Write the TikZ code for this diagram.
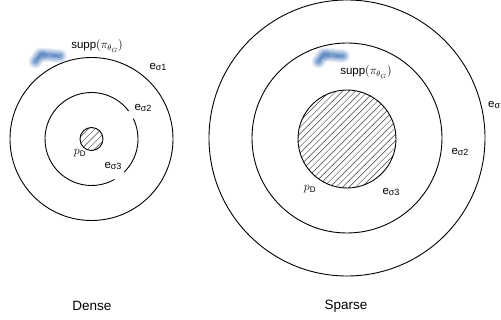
\documentclass[tikz,border=0pt]{standalone}
\usepackage{amsmath}
\usepackage{fontspec}
\setmainfont{Liberation Sans}
\usetikzlibrary{calc}
\definecolor{blobblue}{RGB}{30,90,175}
\newcommand{\esub}[2]{#1\raisebox{-0.25ex}{\fontsize{9}{9}\selectfont #2}}
\tikzset{
  ring/.style={line width=0.9pt, black},
  lbl/.style={inner sep=0pt, font=\fontsize{11.5}{12}\selectfont},
  caption/.style={inner sep=0pt, font=\fontsize{13.5}{15}\selectfont},
  hatchline/.style={line width=0.45pt, black!75},
}
% soft blue smudge drawn as stacked translucent strokes
\newcommand{\smudge}[1]{%
  \begin{scope}[shift={#1}, line cap=round]
    \foreach \w in {14,12.5,11,9.5,8,7,6,5,4.2,3.5,2.8}{
      \draw[blobblue, opacity=0.075, line width=\w pt] (1.5,9.5) -- (6.5,2.5);
      \draw[blobblue, opacity=0.075, line width=\w pt] (12,3) .. controls (16,3) and (21,4) .. (26,4);
    }
    \draw[blobblue, opacity=0.2, line width=2pt] (2.5,8) -- (5.5,4);
    \draw[blobblue, opacity=0.2, line width=2pt] (19,3.8) -- (24,4.2);
  \end{scope}}
\begin{document}
\begin{tikzpicture}[x=1pt,y=-1pt]
  \useasboundingbox (0,0) rectangle (501,320);
  \fill[white] (0,0) rectangle (501,320);

  % ---------- dense ----------
  \coordinate (dc) at (91.5,139);
  \draw[ring] (dc) circle (81.5pt);
  \draw[ring] (dc) ++(37:46.5pt) arc[start angle=37, end angle=299.5, radius=46.5pt];
  \draw[ring] (dc) ++(-45.5:46.5pt) arc[start angle=-45.5, end angle=26, radius=46.5pt];
  \begin{scope}
    \clip (dc) circle (11.5pt);
    \foreach \k in {-5,...,5}{
      \draw[hatchline] ($(dc)+(\k*6.6,0)+(-20,20)$) -- ($(dc)+(\k*6.6,0)+(20,-20)$);
    }
  \end{scope}
  \draw[ring] (dc) circle (11.5pt);
  \smudge{(34,52)}

  \node[lbl] (dsupp) at (97,46) {supp$(\pi_{\theta_G})$};
  \node[lbl] (de1) at (158,67) {\esub{e}{σ1}};
  \node[lbl] (de2) at (143,108) {\esub{e}{σ2}};
  \node[lbl] (dpd) at (80,153) {$p_{\text{D}}$};
  \node[lbl] (de3) at (113,166) {\esub{e}{σ3}};
  \node[caption] (dense) at (92,306) {Dense};

  % ---------- sparse ----------
  \coordinate (sc) at (347,138);
  \draw[ring] (sc) circle (138pt);
  \draw[ring] (sc) circle (95pt);
  \begin{scope}
    \clip (sc) ++(0,1) circle (49pt);
    \foreach \k in {-16,...,16}{
      \draw[hatchline] ($(sc)+(\k*6.4,0)+(-60,60)$) -- ($(sc)+(\k*6.4,0)+(60,-60)$);
    }
  \end{scope}
  \draw[ring] (sc) ++(0,1) circle (49pt);
  \smudge{(317,52)}

  \node[lbl] (ssupp) at (366,72) {supp$(\pi_{\theta_G})$};
  \node[lbl, anchor=west] (se1) at (488,105) {\esub{e}{σ1}};
  \node[lbl] (se2) at (460,152) {\esub{e}{σ2}};
  \node[lbl] (spd) at (310,189) {$p_{\text{D}}$};
  \node[lbl] (se3) at (391,192) {\esub{e}{σ3}};
  \node[caption] (sparse) at (346,306) {Sparse};
\end{tikzpicture}
\end{document}
